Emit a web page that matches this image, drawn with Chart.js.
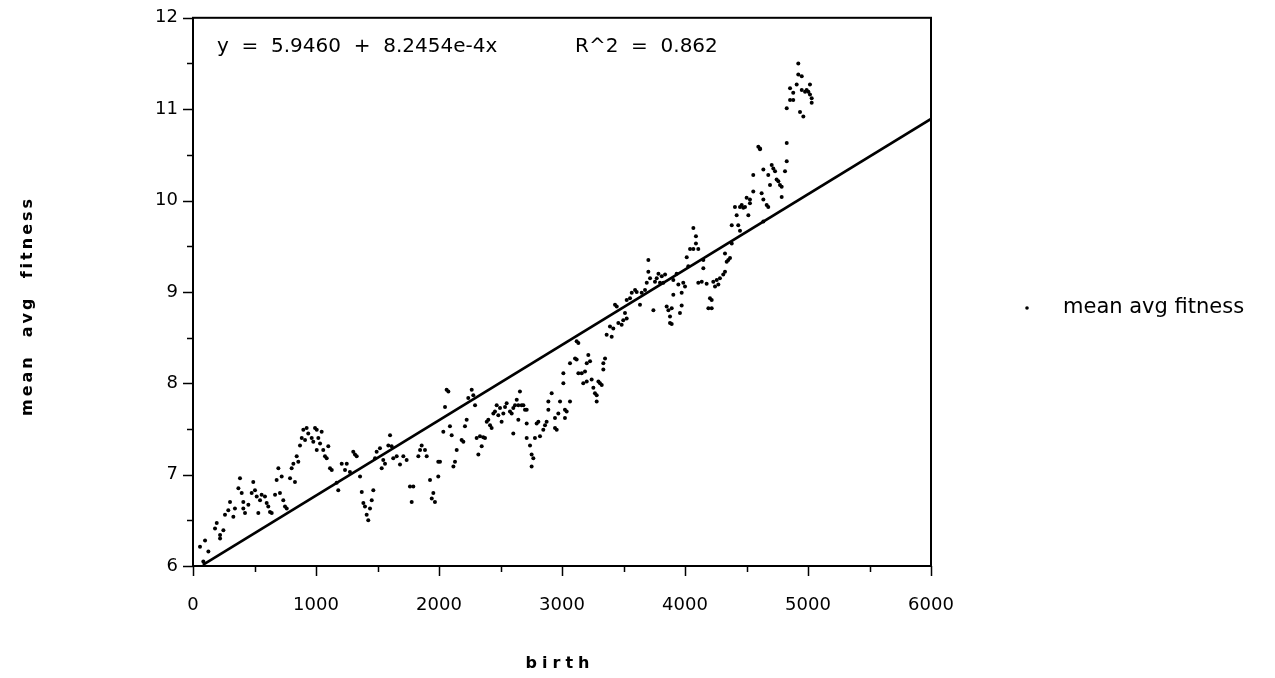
<!DOCTYPE html>
<html><head><meta charset="utf-8">
<script src="https://cdn.jsdelivr.net/npm/chart.js@4.4.1/dist/chart.umd.min.js"></script>
<style>html,body{margin:0;padding:0;background:#fff}canvas{display:block}</style>
</head><body>
<canvas id="c" width="1275" height="678"></canvas>
<script>
// ---- data ----
const birth = [
57,98,84,125,179,193,220,247,220,260,287,301,328,341,369,382,396,409,423,409,450,477,490,504,518,531,545,558,585,599,612,626,640,667,680,694,707,721,734,748,762,789,802,816,829,843,856,870,884,897,911,924,937,965,978,992,1006,1019,1006,1033,1046,1059,1073,1087,1100,1114,1128,1168,1181,1209,1236,1250,1276,1303,1317,1331,1358,1372,1385,1398,1412,1425,1439,1453,1466,1480,1493,1520,1534,1547,1561,1588,1602,1615,1628,1656,1683,1710,1737,1764,1778,1791,1832,1846,1859,1886,1900,1927,1941,1954,1967,1994,1994,
2008,2035,2049,2062,2076,2089,2103,2117,2130,2144,2184,2198,2211,2225,2238,2266,2279,2293,2306,2320,2333,2347,2360,2374,2388,2401,2415,2428,2442,2455,2469,2482,2496,2509,2523,2537,2550,2577,2591,2604,2604,2618,2632,2645,2645,2658,2672,2686,2699,2713,2713,2713,2740,2753,2767,2753,2780,2794,2808,2821,2848,2862,2875,2889,2889,2916,2943,2957,2943,2970,2984,3011,3011,3024,3038,3024,3065,3065,3106,3119,3133,3160,3173,3187,3201,3201,3214,3228,3241,3255,3268,3282,3282,3296,3309,3323,3336,3336,3350,
3119,3133,3363,3390,3404,3417,3431,3445,3458,3485,3498,3512,3526,3526,3553,3567,3594,3607,3634,3648,3675,3689,3702,3702,3716,3743,3756,3770,3784,3797,3811,3824,3838,3851,3865,3878,3878,
4068,4089,4089,4041,4068,4108,4014,4027,3932,3905,3946,3986,4000,3905,3973,3892,3973,3959,3892,4149,4149,4108,4136,4176,4203,4217,4190,4217,4230,4258,4284,4271,4244,4311,4325,4339,4366,4352,4325,4380,4380,4433,4447,
4406,4420,4447,4461,4474,4488,4515,4528,4501,4528,4555,4555,4596,4610,4610,4623,4637,4664,4677,4637,4677,4691,4705,4718,4732,4745,4759,4772,4786,4786,4813,4827,4827,4827,4854,4880,4854,4880,4908,4921,4921,4949,4949,4976,4989,5003,5016,5016,5030,5030,4935,4962,4637
];
const fitness = [
6.21,6.28,6.05,6.16,6.41,6.47,6.34,6.39,6.30,6.56,6.61,6.70,6.54,6.63,6.85,6.96,6.80,6.63,6.58,6.70,6.67,6.80,6.92,6.83,6.76,6.58,6.72,6.78,6.76,6.69,6.65,6.59,6.58,6.78,6.94,7.07,6.80,6.98,6.72,6.65,6.63,6.96,7.07,7.12,6.92,7.20,7.14,7.32,7.40,7.49,7.38,7.51,7.45,7.40,7.36,7.51,7.49,7.40,7.27,7.34,7.47,7.27,7.20,7.18,7.31,7.07,7.05,6.91,6.83,7.12,7.05,7.12,7.03,7.25,7.22,7.20,6.98,6.81,6.69,6.65,6.56,6.50,6.63,6.72,6.83,7.18,7.25,7.29,7.07,7.16,7.12,7.32,7.43,7.31,7.18,7.20,7.11,7.20,7.16,6.87,6.70,6.87,7.20,7.27,7.32,7.27,7.20,6.94,6.74,6.80,6.70,7.14,6.98,
7.14,7.47,7.74,7.93,7.91,7.53,7.43,7.09,7.14,7.27,7.38,7.36,7.53,7.60,7.84,7.93,7.87,7.76,7.40,7.22,7.42,7.31,7.41,7.40,7.58,7.60,7.54,7.51,7.67,7.69,7.76,7.65,7.73,7.58,7.67,7.74,7.78,7.69,7.67,7.73,7.45,7.76,7.82,7.76,7.60,7.91,7.76,7.76,7.71,7.71,7.56,7.40,7.32,7.22,7.18,7.09,7.40,7.56,7.58,7.42,7.49,7.54,7.58,7.71,7.80,7.89,7.51,7.49,7.62,7.67,7.80,8.00,8.11,7.71,7.69,7.62,7.80,8.22,8.27,8.26,8.11,8.11,8.00,8.13,8.02,8.22,8.31,8.24,8.04,7.95,7.89,7.87,7.80,8.02,8.00,7.98,8.15,8.22,8.27,
8.46,8.44,8.53,8.62,8.51,8.60,8.86,8.84,8.66,8.64,8.69,8.77,8.71,8.91,8.93,8.99,9.02,9.00,8.86,8.99,9.02,9.10,9.22,9.35,9.15,8.80,9.11,9.15,9.20,9.10,9.17,9.10,9.19,8.84,8.80,8.73,8.66,
9.70,9.61,9.53,9.47,9.47,9.47,9.38,9.28,9.20,9.13,9.08,9.10,9.06,8.97,8.99,8.82,8.85,8.77,8.65,9.35,9.26,9.10,9.11,9.09,8.93,8.91,8.82,8.82,9.11,9.13,9.15,9.08,9.06,9.19,9.22,9.33,9.37,9.35,9.42,9.53,9.73,9.73,9.67,
9.93,9.84,9.93,9.95,9.92,9.93,9.84,9.97,10.03,10.01,10.10,10.28,10.59,10.57,10.56,10.08,10.01,9.95,9.93,10.34,10.28,10.17,10.39,10.35,10.32,10.23,10.21,10.17,10.15,10.04,10.32,10.43,10.63,11.01,11.10,11.10,11.23,11.18,11.27,11.50,11.38,11.36,11.21,11.19,11.21,11.19,11.27,11.16,11.12,11.07,10.97,10.92,9.77
];
const fitLineX = [80, 6000];
const fitLineY = [6.012, 10.893];
const xTickValues = [0, 1000, 2000, 3000, 4000, 5000, 6000];
const yTickValues = [6, 7, 8, 9, 10, 11, 12];
const seriesName = 'mean avg fitness';
const xTitle = 'birth';
const yTitle = 'mean  avg  fitness';
const equationText = 'y  =  5.9460  +  8.2454e-4x';
const r2Text = 'R^2  =  0.862';

// ---- chart ----
const points = birth.map((b, i) => ({x: b, y: fitness[i]}));
const linePts = fitLineX.map((b, i) => ({x: b, y: fitLineY[i]}));

const decor = {
  id: 'decor',
  afterDraw(chart) {
    const ctx = chart.ctx, a = chart.chartArea;
    const xs = chart.scales.x, ys = chart.scales.y;
    ctx.save();
    ctx.strokeStyle = '#000';
    ctx.lineWidth = 2;
    ctx.strokeRect(a.left, a.top, a.right - a.left, a.bottom - a.top);
    ctx.lineWidth = 1.5;
    ctx.beginPath();
    for (let v = xs.min; v <= xs.max; v += 500) {
      const p = Math.round(xs.getPixelForValue(v)) + 0.5;
      const len = (v % 1000 === 0) ? 10 : 6;
      ctx.moveTo(p, a.bottom); ctx.lineTo(p, a.bottom + len);
    }
    for (let v = ys.min; v <= ys.max + 1e-9; v += 0.5) {
      const p = Math.round(ys.getPixelForValue(v)) + 0.5;
      const len = (Math.abs(v - Math.round(v)) < 1e-9) ? 10 : 6;
      ctx.moveTo(a.left - len, p); ctx.lineTo(a.left, p);
    }
    ctx.stroke();

    ctx.fillStyle = '#000';
    ctx.textBaseline = 'middle';
    ctx.font = '20px "DejaVu Sans"';
    ctx.textAlign = 'left';
    ctx.fillText(equationText, 217, 47);
    ctx.fillText(r2Text, 575, 47);

    // legend
    ctx.beginPath(); ctx.arc(1027, 308, 1.8, 0, Math.PI * 2); ctx.fill();
    ctx.font = '21px "DejaVu Sans"';
    ctx.fillText(seriesName, 1063, 308);

    // axis titles
    ctx.font = 'bold 16px "DejaVu Sans"';
    ctx.letterSpacing = '5px';
    ctx.textAlign = 'center';
    ctx.fillText(xTitle, 560, 664);
    ctx.letterSpacing = '3px';
    ctx.translate(28, 306);
    ctx.rotate(-Math.PI / 2);
    ctx.fillText(yTitle, 0, 0);
    ctx.restore();
  }
};

new Chart(document.getElementById('c'), {
  type: 'scatter',
  data: {
    datasets: [
      {label: seriesName, data: points, pointRadius: 2, pointBorderWidth: 0,
       backgroundColor: '#000', borderColor: '#000', order: 2},
      {type: 'line', label: 'fit', data: linePts, borderColor: '#000', borderWidth: 2.6,
       pointRadius: 0, fill: false, tension: 0, order: 1}
    ]
  },
  options: {
    responsive: false, animation: false, devicePixelRatio: 1,
    layout: {padding: {top: 9, right: 344, left: 0, bottom: 0}},
    plugins: {legend: {display: false}, tooltip: {enabled: false}},
    scales: {
      x: {type: 'linear', min: 0, max: 6000,
          afterBuildTicks: s => { s.ticks = xTickValues.map(v => ({value: v})); },
          afterFit: s => { s.height = 112; },
          grid: {display: false}, border: {display: false},
          ticks: {color: '#000', padding: 21, maxRotation: 0, callback: v => String(v),
                  font: {family: 'DejaVu Sans', size: 18}}},
      y: {type: 'linear', min: 6, max: 12,
          afterBuildTicks: s => { s.ticks = yTickValues.map(v => ({value: v})); },
          afterFit: s => { s.width = 193; },
          grid: {display: false}, border: {display: false},
          ticks: {color: '#000', padding: 7, callback: v => String(v),
                  font: {family: 'DejaVu Sans', size: 18}}}
    }
  },
  plugins: [decor]
});
</script>
</body></html>
